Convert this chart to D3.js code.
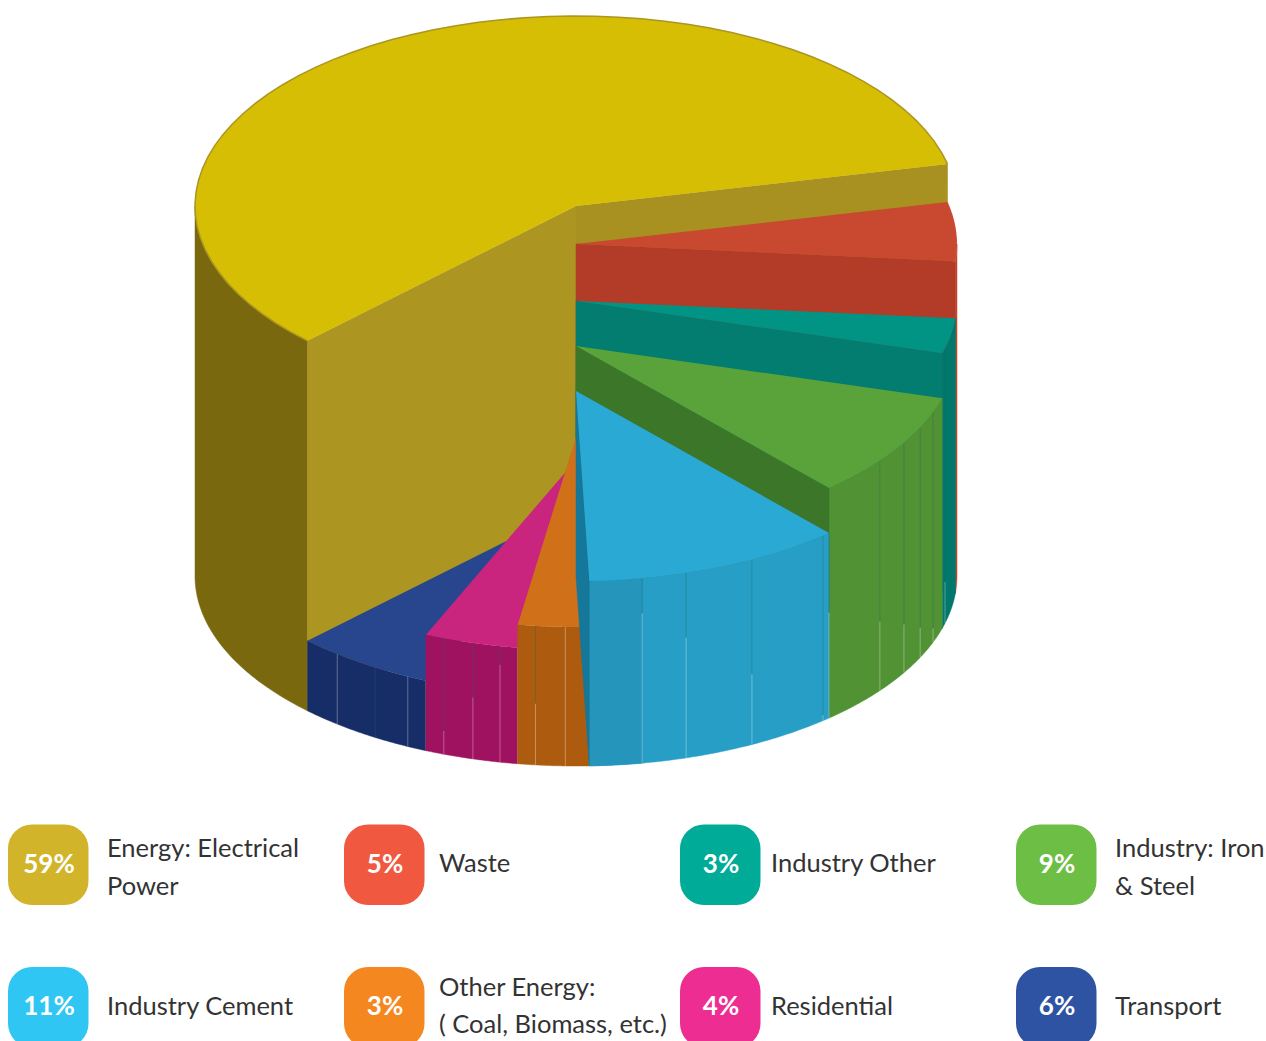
<!DOCTYPE html>
<html>
<head>
<meta charset="utf-8">
<script src="https://cdn.jsdelivr.net/npm/d3@7/dist/d3.min.js"></script>
<style>
html,body{margin:0;padding:0;background:#fff;overflow:hidden}
svg{display:block}
text{font-family:Lato,"Noto Sans",sans-serif}
</style>
</head>
<body>
<svg id="chart" width="1266" height="1041"></svg>
<script>
// Emissions share by sector, drawn as a stepped 3D pie.
const sectors = ["Energy: Electrical Power","Waste","Industry Other","Industry: Iron & Steel","Industry Cement","Other Energy: ( Coal, Biomass, etc.)","Residential","Transport"];
const shares = [59,5,3,9,11,3,4,6];
const labelLines = [["Energy: Electrical","Power"],["Waste"],["Industry Other"],["Industry: Iron","& Steel"],["Industry Cement"],["Other Energy:","( Coal, Biomass, etc.)"],["Residential"],["Transport"]];
// Height of each extruded slice, in arbitrary depth units.
const depths = [370,332,275,230,185,139,116,70];
const topColors = ["#D5BE03","#C84930","#019383","#5AA33A","#2BA9D5","#D07018","#C9247E","#28468D"];
const sideColors = ["#7A680F","#C0452E","#02786C","#519234","#279EC6","#AD5C0F","#9F1260","#172D68"];
const endWallColors = ["#A89120","#B23C28","#027D70","#3C7729","#15779A",null,null,null];
const firstFacetTints = [null,null,null,null,"#2595BC",null,null,null];
const badgeColors = ["#D2B42B","#F0583F","#00AC98","#6DBE45","#2FC6F4","#F58720","#EE2D93","#2E53A3"];
// Facet seams on the outer wall: angle in degrees clockwise from east, and how far down the dark part runs.
const seamAngles = [[],[],[14.4],[37.1,30.6,25.4,20.4],[80,73.2,62.5,49.6],[91.6,96.1],[101.5,105.7,110.3],[116.2,121.8,128.8]];
const seamSplits = [[],[],[0.85],[0.70,0.79,0.87,0.94],[0.19,0.35,0.62,0.97],[0,0.56],[0.16,0.47,0.80],[0,1,0]];
// Seam on the leading edge of each slice's outer wall (null where none shows).
const edgeSplits = [null,null,null,null,0.43,null,0,0];

const svg = d3.select("#chart");
const rx = 381, ry = 190, cx = 576;
const base = 576;
const level = d3.scaleLinear().domain([0,370]).range([base,206]);
const rad = d => d*Math.PI/180;
const TAU = 2*Math.PI;

const pie = d3.pie().sort(null).value(d=>d).startAngle(rad(224.8)).endAngle(rad(224.8)+TAU);
const arcs = pie(shares).map((a,i)=>({i,t0:a.startAngle-Math.PI/2,t1:a.endAngle-Math.PI/2,top:level(depths[i])}));

const px = t => cx + rx*Math.cos(t);
const py = (t,l) => l + ry*Math.sin(t);
const line = d3.line().x(d=>d[0]).y(d=>d[1]);
const rim = (t0,t1,l) => d3.range(0,61).map(k=>{const t=t0+(t1-t0)*k/60;return [px(t),py(t,l)];});

// Curved band between the slice's top rim and the base, for an angular span.
function band(t0,t1,l,col){
  const pts = rim(t0,t1,l).concat(rim(t0,t1,base).reverse());
  svg.append("path").attr("d",line(pts)+"Z").attr("fill",col).attr("stroke",col).attr("stroke-width",0.5);
}
// Only the half of the cylinder facing the viewer is drawn.
function drawWall(a){
  [[0,Math.PI],[TAU,TAU+Math.PI]].forEach(([lo,hi])=>{
    const s=Math.max(a.t0,lo), e=Math.min(a.t1,hi);
    if(e>s) band(s,e,a.top,sideColors[a.i]);
  });
  if(firstFacetTints[a.i]){
    // Seam angles are within one turn; slices past east carry an extra turn.
    const turn = a.t0>=TAU ? TAU : 0;
    band(rad(seamAngles[a.i][0])+turn,a.t1,a.top,firstFacetTints[a.i]);
  }
}
function seam(a,t,frac){
  const x=px(t), y0=py(t,a.top), y1=py(t,base), ym=y0+(y1-y0)*frac;
  svg.append("line").attr("x1",x).attr("x2",x).attr("y1",y0).attr("y2",ym).attr("stroke","#1d6b5e").attr("stroke-opacity",0.35);
  svg.append("line").attr("x1",x).attr("x2",x).attr("y1",ym).attr("y2",y1).attr("stroke","#fff").attr("stroke-opacity",0.32);
}
function drawSeams(a){
  seamAngles[a.i].forEach((deg,k)=>seam(a,rad(deg),seamSplits[a.i][k]));
  if(edgeSplits[a.i]!==null) seam(a,a.t0,edgeSplits[a.i]);
}
function drawEndWall(a,t,col){
  const pts=[[cx,a.top],[px(t),py(t,a.top)],[px(t),py(t,base)],[cx,base]];
  svg.append("path").attr("d",line(pts)+"Z").attr("fill",col).attr("stroke",col).attr("stroke-width",0.5);
}
function drawTop(a){
  const pts=[[cx,a.top]].concat(rim(a.t0,a.t1,a.top));
  svg.append("path").attr("d",line(pts)+"Z").attr("fill",topColors[a.i]);
  if(a.i===0) svg.append("path").attr("d",line(rim(a.t0,a.t1,a.top))).attr("fill","none").attr("stroke","#AC9520").attr("stroke-width",1.5);
}
// Painter's order: back slices first; the cement slice's inner wall overlaps the orange one.
[0,1,2,3,7,6,5,4].forEach(i=>{
  const a=arcs[i];
  drawWall(a);
  if(i===0) drawEndWall(a,a.t0,"#AC9520");
  if(endWallColors[i]) drawEndWall(a,a.t1,endWallColors[i]);
  drawSeams(a);
  drawTop(a);
});

// Legend badges and captions.
const colX = [8,344,680,1016];
const rowY = [824.5,967];
const textX = [107,439,771,1115];
const twoLineShift = [4,0];
const fontSize = 25.5, lineGap = 37.5;
const legend = svg.append("g");
shares.forEach((v,i)=>{
  const c=i%4,r=Math.floor(i/4);
  legend.append("rect").attr("x",colX[c]).attr("y",rowY[r]).attr("width",80.5).attr("height",80.5).attr("rx",24).attr("fill",badgeColors[i]);
  legend.append("text").attr("x",colX[c]+41).attr("y",rowY[r]+48).attr("text-anchor","middle").attr("font-size",26).attr("font-weight",700).attr("fill","#fff").text(v+"%");
  const lines=labelLines[i];
  const mid=rowY[r]+39 + (lines.length>1?twoLineShift[r]:0);
  lines.forEach((s,k)=>{
    legend.append("text").attr("x",textX[c]).attr("y",mid+8.5+(k-(lines.length-1)/2)*lineGap).attr("font-size",fontSize).attr("fill","#333").text(s);
  });
});
</script>
</body>
</html>
